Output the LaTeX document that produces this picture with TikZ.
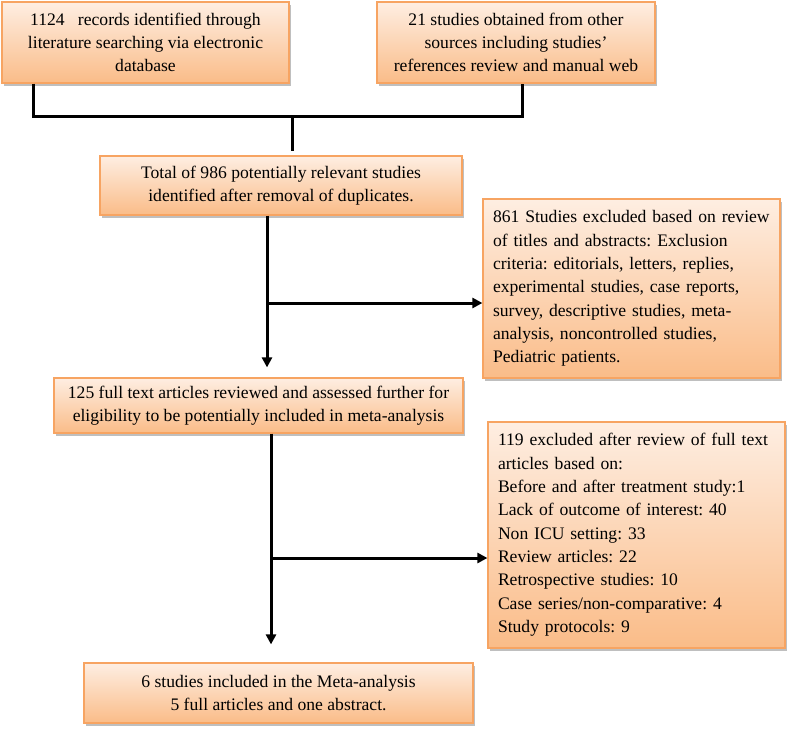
\documentclass[tikz,border=0pt]{standalone}
\usepackage{fontspec}
\setmainfont{Liberation Serif}
\usetikzlibrary{arrows.meta,shadows}

\definecolor{boxtop}{HTML}{FEEEE2}
\definecolor{boxbot}{HTML}{FABC88}
\definecolor{boxline}{HTML}{F7A462}

\begin{document}
\frenchspacing
\begin{tikzpicture}[
        x=0.75pt, y=-0.75pt,
        box/.style={draw=boxline, line width=0.9pt, top color=boxtop, bottom color=boxbot,
            drop shadow={shadow xshift=1.2pt, shadow yshift=-2.4pt, fill=black!50},
            inner sep=0pt, align=center, font=\fontsize{13.2}{17.5}\selectfont},
        listbox/.style={box, align=left, inner xsep=7.5pt},
        link/.style={line width=2.25pt, black},
        arrow/.style={link, -{Triangle[length=7.5pt, width=7.5pt]}}
        ]
            %\draw[lightgray] (0, 0) grid (787, 731);
            \useasboundingbox (0, 0) rectangle (787, 731);

            \node[box, minimum width=215.25pt, minimum height=60.75pt] (rec) at (145.5, 42.5)
                {1124\ \ \ records identified through\\ literature searching via electronic\\ database};
            \node[box, minimum width=208.5pt, minimum height=60.75pt] (oth) at (516, 42.5)
                {21 studies obtained from other\\ sources including studies’\\ references review and manual web};
            \node[box, minimum width=271.5pt, minimum height=44.25pt] (tot) at (281, 185.5)
                {Total of 986 potentially relevant studies\\ identified after removal of duplicates.};
            \node[listbox, text width=207.75pt, minimum height=134.25pt] (exc1) at (631.5, 288.5)
                {861 Studies excluded based on review\\ of titles and abstracts: Exclusion\\
                 criteria: editorials, letters, replies,\\ experimental studies, case reports,\\
                 survey, descriptive studies, meta-\\ analysis, noncontrolled studies,\\ Pediatric patients.};
            \node[box, minimum width=306.75pt, minimum height=41.25pt] (full) at (258.5, 405.5)
                {125 full text articles reviewed and assessed further for\\ eligibility to be potentially included in meta-analysis};
            \node[listbox, text width=207.75pt, minimum height=169.5pt] (exc2) at (636.5, 535)
                {119 excluded after review of full text\\ articles based on:\\ Before and after treatment study:1\\
                 Lack of outcome of interest: 40\\ Non ICU setting: 33\\ Review articles: 22\\
                 Retrospective studies: 10\\ Case series/non-comparative: 4\\ Study protocols: 9};
            \node[box, minimum width=291.75pt, minimum height=45pt] (inc) at (278.5, 693)
                {6 studies included in the Meta-analysis\\ 5 full articles and one abstract.};

            % joining the two sources
            \coordinate (recleg) at (33, 117);
            \coordinate (othleg) at (522, 117);
            \coordinate (join) at (292, 117);
            \draw[link] (rec.south -| recleg) -- (recleg) -- (othleg) -- (oth.south -| othleg);
            \draw[link] (join) -- ([yshift=3pt]tot.north -| join);

            % main flow with the exclusions
            \coordinate (split1) at (267, 303);
            \coordinate (split2) at (271, 558);
            \draw[arrow, shorten >=7.5pt] (tot.south -| split1) -- (full.north -| split1);
            \draw[arrow] (split1) -- (exc1.west |- split1);
            \draw[arrow, shorten >=13.5pt] (full.south -| split2) -- (inc.north -| split2);
            \draw[arrow] (split2) -- (exc2.west |- split2);
        \end{tikzpicture}
\end{document}
